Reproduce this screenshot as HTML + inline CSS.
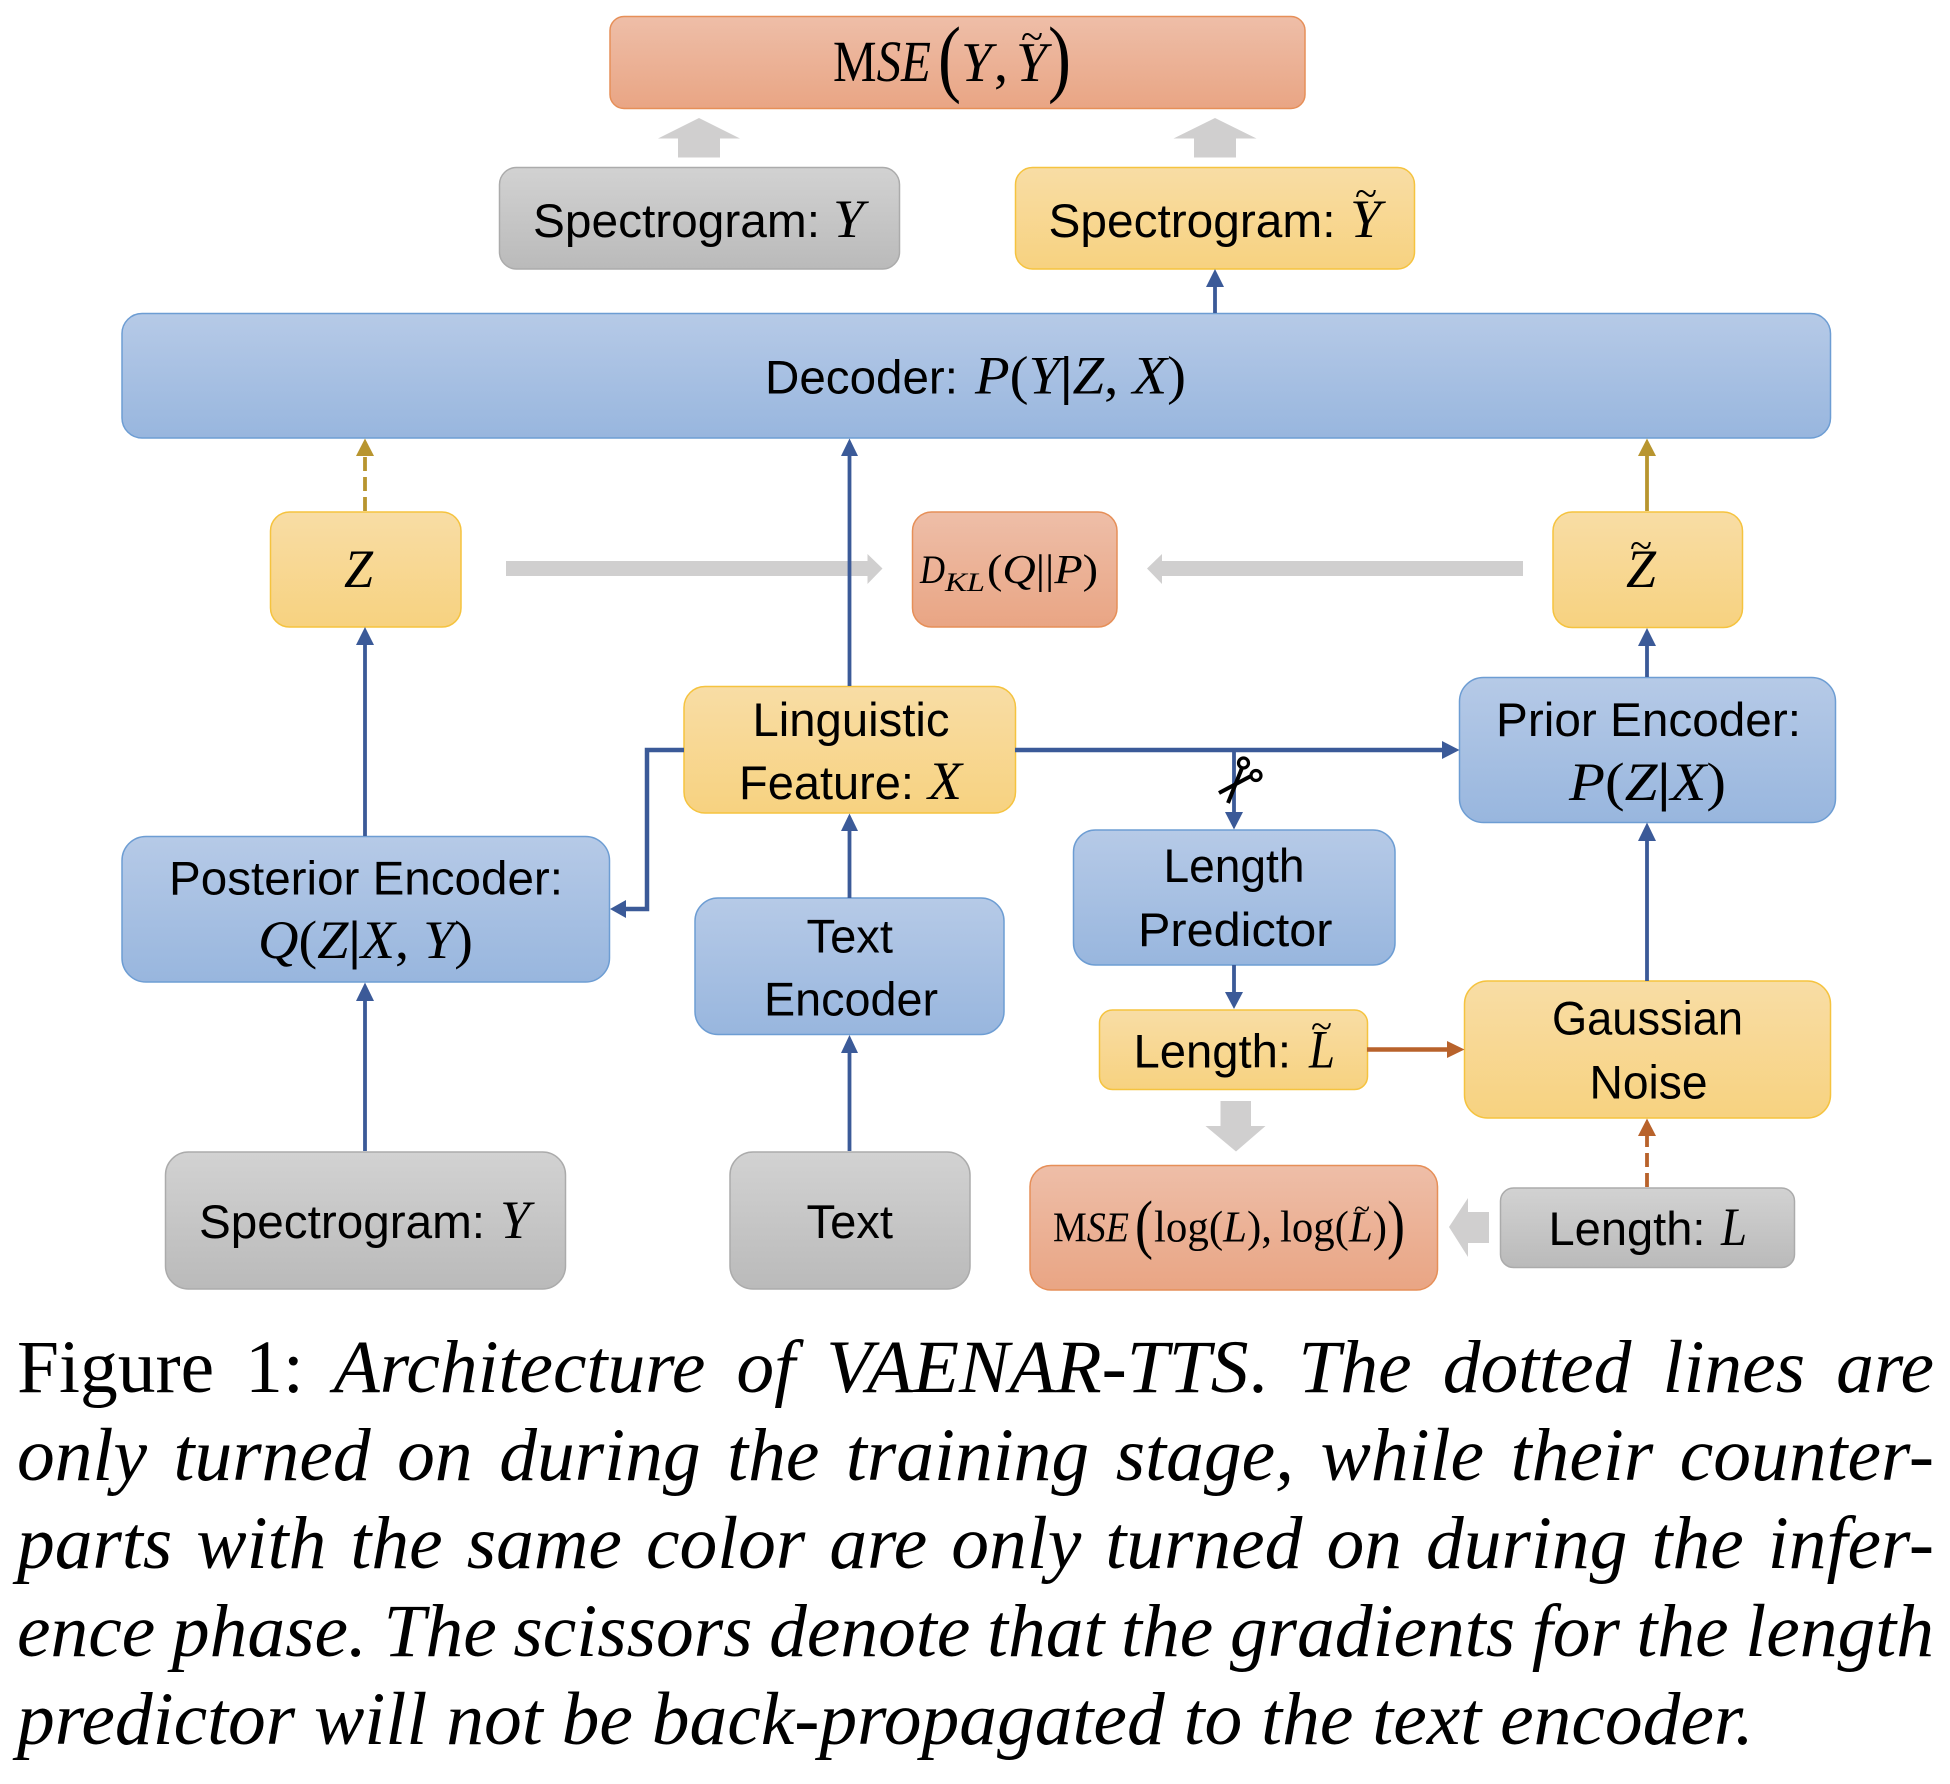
<!DOCTYPE html>
<html><head><meta charset="utf-8">
<style>
html,body{margin:0;padding:0;background:#fff;width:1950px;height:1784px;overflow:hidden}
svg{position:absolute;left:0;top:0}
.s{font-family:"Liberation Sans",sans-serif;font-size:47px;fill:#000}
.m{font-family:"Liberation Serif",serif;font-style:italic;font-size:54px;fill:#000}
.u{font-style:normal}
.c{position:absolute;left:17px;width:1917px;font-family:"Liberation Serif",serif;font-size:75.5px;line-height:88px;height:88px;white-space:nowrap;text-align:justify;text-align-last:justify;color:#000;font-style:italic}
.c span{font-style:normal}
</style></head><body>
<svg width="1950" height="1784" viewBox="0 0 1950 1784" xmlns="http://www.w3.org/2000/svg">
<defs>
<linearGradient id="b" x1="0" y1="0" x2="0" y2="1"><stop offset="0" stop-color="#b6cae7"/><stop offset="1" stop-color="#98b6de"/></linearGradient>
<linearGradient id="y" x1="0" y1="0" x2="0" y2="1"><stop offset="0" stop-color="#f8dda5"/><stop offset="1" stop-color="#f7d280"/></linearGradient>
<linearGradient id="g" x1="0" y1="0" x2="0" y2="1"><stop offset="0" stop-color="#d2d2d2"/><stop offset="1" stop-color="#bababa"/></linearGradient>
<linearGradient id="o" x1="0" y1="0" x2="0" y2="1"><stop offset="0" stop-color="#eebea8"/><stop offset="1" stop-color="#e9a584"/></linearGradient>
</defs>

<!-- grey block arrows -->
<g fill="#d0cfcf">
<polygon points="699,118 740,138.500 720,138.500 720,157.500 678,157.500 678,138.500 658,138.500"/>
<polygon points="1215,118 1256.500,138.500 1236,138.500 1236,157.500 1194,157.500 1194,138.500 1173.500,138.500"/>
<polygon points="506,561 867.500,561 867.500,554 882.500,568.500 867.500,584 867.500,576 506,576"/>
<polygon points="1523,561 1162,561 1162,554 1147,568.500 1162,584 1162,576 1523,576"/>
<polygon points="1220.500,1101 1251,1101 1251,1126 1265.500,1126 1236,1151.500 1205.500,1126 1220.500,1126"/>
<polygon points="1489,1212 1468,1212 1468,1198 1449,1227 1468,1257 1468,1243 1489,1243"/>
</g>

<!-- boxes -->
<g stroke-width="1.5">
<rect x="610" y="16.500" width="695" height="92" rx="14" fill="url(#o)" stroke="#e68f58"/>
<rect x="499.500" y="167.500" width="400" height="101.500" rx="17" fill="url(#g)" stroke="#ababab"/>
<rect x="1015.500" y="167.500" width="399" height="101.500" rx="17" fill="url(#y)" stroke="#f5c33f"/>
<rect x="122" y="313.500" width="1708.500" height="124.500" rx="20" fill="url(#b)" stroke="#6d9dd3"/>
<rect x="270.500" y="512" width="190.500" height="115" rx="19" fill="url(#y)" stroke="#f5c33f"/>
<rect x="912.500" y="512" width="204.500" height="115" rx="19" fill="url(#o)" stroke="#e68f58"/>
<rect x="1553" y="512" width="189.500" height="115.500" rx="19" fill="url(#y)" stroke="#f5c33f"/>
<rect x="684" y="686.500" width="331.500" height="126.500" rx="21" fill="url(#y)" stroke="#f5c33f"/>
<rect x="122" y="836.500" width="487.500" height="145.500" rx="24" fill="url(#b)" stroke="#6d9dd3"/>
<rect x="695" y="898" width="309" height="136.500" rx="23" fill="url(#b)" stroke="#6d9dd3"/>
<rect x="1459.500" y="677.500" width="376" height="145" rx="24" fill="url(#b)" stroke="#6d9dd3"/>
<rect x="1073.500" y="830" width="321.500" height="135" rx="22" fill="url(#b)" stroke="#6d9dd3"/>
<rect x="1099.500" y="1010" width="268" height="79.500" rx="13" fill="url(#y)" stroke="#f5c33f"/>
<rect x="1464.500" y="981" width="366" height="137" rx="23" fill="url(#y)" stroke="#f5c33f"/>
<rect x="165.500" y="1152" width="400" height="137" rx="23" fill="url(#g)" stroke="#ababab"/>
<rect x="730" y="1152" width="240" height="137" rx="23" fill="url(#g)" stroke="#ababab"/>
<rect x="1030" y="1165.500" width="407.500" height="124.500" rx="21" fill="url(#o)" stroke="#e68f58"/>
<rect x="1500.500" y="1188" width="294" height="79.500" rx="13" fill="url(#g)" stroke="#ababab"/>
</g>

<!-- blue connectors -->
<g stroke="#3b5a98" stroke-width="3.800" fill="none">
<path d="M1215 313V285"/>
<path d="M849.500 686V455"/>
<path d="M365 836V644"/>
<path d="M1647 677V645"/>
<path d="M365 1151V1000"/>
<path d="M849.500 898V831"/>
<path d="M849.500 1151V1052"/>
<path d="M1647 981V840"/>
<path d="M1234 750V815"/>
<path d="M1234 965V995"/>
<path d="M684 750H647V909H622" stroke-width="4.500"/>
<path d="M1015 750H1445" stroke-width="4.500"/>
</g>
<g fill="#3b5a98">
<polygon points="1215,269 1224,287 1206,287"/>
<polygon points="849.500,438.500 858,456 841,456"/>
<polygon points="365,627 374,645 356,645"/>
<polygon points="1647,628 1656,646 1638,646"/>
<polygon points="365,982.500 374,1001 356,1001"/>
<polygon points="849.500,813.500 858,831 841,831"/>
<polygon points="849.500,1035 858,1053 841,1053"/>
<polygon points="1647,822.500 1656,841 1638,841"/>
<polygon points="1234,829.500 1225,812 1243,812"/>
<polygon points="1234,1009 1225,992 1243,992"/>
<polygon points="610,909 626,900 626,918"/>
<polygon points="1459.500,750 1442,741 1442,759"/>
</g>
<!-- gold / brown connectors -->
<g fill="none" stroke-width="3.800">
<path d="M365 511V456" stroke="#b8952f" stroke-dasharray="14 6"/>
<path d="M1647 511V456" stroke="#b8952f"/>
<path d="M1367 1049.500H1450" stroke="#b8622b" stroke-width="4.500"/>
<path d="M1647 1187V1136" stroke="#b8622b" stroke-dasharray="14 6"/>
</g>
<polygon fill="#b8952f" points="365,438.500 374,456 356,456"/>
<polygon fill="#b8952f" points="1647,438.500 1656,456 1638,456"/>
<polygon fill="#b8622b" points="1464.500,1049.500 1447,1041 1447,1058"/>
<polygon fill="#b8622b" points="1647,1118.500 1656,1136 1638,1136"/>

<!-- scissors -->
<g fill="none" stroke="#000">
<circle cx="1243.500" cy="763" r="5" stroke-width="3.200"/>
<circle cx="1256" cy="775.500" r="5" stroke-width="3.200"/>
<path d="M1242 768L1228 803" stroke-width="4"/>
<path d="M1251 776L1219 793" stroke-width="4"/>
</g>

<!-- labels -->
<text class="m" x="833" y="81" style="font-size:58px" textLength="98" lengthAdjust="spacingAndGlyphs"><tspan class="u">M</tspan>SE</text>
<text class="m u" x="938" y="86" style="font-size:86px;font-style:normal" textLength="23" lengthAdjust="spacingAndGlyphs">(</text>
<text class="m" x="961" y="81" style="font-size:56px" textLength="31" lengthAdjust="spacingAndGlyphs">Y</text>
<text class="m u" x="994" y="81" style="font-size:56px;font-style:normal">,</text>
<text class="m" x="1016" y="81" style="font-size:56px" textLength="31" lengthAdjust="spacingAndGlyphs">Y</text>
<text class="m u" x="1021" y="50" style="font-size:40px;font-style:normal" textLength="22" lengthAdjust="spacingAndGlyphs">~</text>
<text class="m u" x="1048" y="86" style="font-size:86px;font-style:normal" textLength="23" lengthAdjust="spacingAndGlyphs">)</text>

<text class="s" x="533" y="237" textLength="287" lengthAdjust="spacingAndGlyphs">Spectrogram:</text>
<text class="m" x="833" y="237" style="font-size:54px" textLength="31" lengthAdjust="spacingAndGlyphs">Y</text>

<text class="s" x="1048.500" y="237" textLength="287" lengthAdjust="spacingAndGlyphs">Spectrogram:</text>
<text class="m" x="1350" y="237" style="font-size:54px" textLength="31" lengthAdjust="spacingAndGlyphs">Y</text>
<text class="m u" x="1355" y="207" style="font-size:40px;font-style:normal" textLength="22" lengthAdjust="spacingAndGlyphs">~</text>

<text class="s" x="765" y="393.500" textLength="193" lengthAdjust="spacingAndGlyphs">Decoder:</text>
<text class="m" x="975" y="393.500" textLength="211" lengthAdjust="spacingAndGlyphs">P<tspan style="font-style:normal">(</tspan>Y<tspan style="font-style:normal;font-weight:bold">|</tspan>Z<tspan style="font-style:normal">,</tspan> X<tspan style="font-style:normal">)</tspan></text>

<text class="m" x="344" y="587" textLength="29" lengthAdjust="spacingAndGlyphs">Z</text>
<text class="m" x="1626" y="587" textLength="30" lengthAdjust="spacingAndGlyphs">Z</text>
<text class="m u" x="1630" y="559" style="font-size:40px;font-style:normal" textLength="22" lengthAdjust="spacingAndGlyphs">~</text>

<text class="m" x="920" y="583" style="font-size:40px" textLength="25" lengthAdjust="spacingAndGlyphs">D</text>
<text class="m" x="945" y="591" style="font-size:26px" textLength="40" lengthAdjust="spacingAndGlyphs">KL</text>
<text class="m" x="987" y="583" style="font-size:41px" textLength="111" lengthAdjust="spacingAndGlyphs"><tspan style="font-style:normal">(</tspan>Q<tspan style="font-style:normal">||</tspan>P<tspan style="font-style:normal">)</tspan></text>

<text class="s" x="752.500" y="736" textLength="197" lengthAdjust="spacingAndGlyphs">Linguistic</text>
<text class="s" x="739" y="799" textLength="175" lengthAdjust="spacingAndGlyphs">Feature:</text>
<text class="m" x="928" y="799" textLength="34" lengthAdjust="spacingAndGlyphs">X</text>

<text class="s" x="169" y="894.500" textLength="394" lengthAdjust="spacingAndGlyphs">Posterior Encoder:</text>
<text class="m" x="258" y="958" textLength="215" lengthAdjust="spacingAndGlyphs">Q<tspan style="font-style:normal">(</tspan>Z<tspan style="font-style:normal;font-weight:bold">|</tspan>X<tspan style="font-style:normal">,</tspan> Y<tspan style="font-style:normal">)</tspan></text>

<text class="s" x="806.500" y="952.500" textLength="86.500" lengthAdjust="spacingAndGlyphs">Text</text>
<text class="s" x="764" y="1015.500" textLength="174" lengthAdjust="spacingAndGlyphs">Encoder</text>

<text class="s" x="1496" y="736" textLength="305" lengthAdjust="spacingAndGlyphs">Prior Encoder:</text>
<text class="m" x="1569" y="800" textLength="157" lengthAdjust="spacingAndGlyphs">P<tspan style="font-style:normal">(</tspan>Z<tspan style="font-style:normal;font-weight:bold">|</tspan>X<tspan style="font-style:normal">)</tspan></text>

<text class="s" x="1163.500" y="882" textLength="141" lengthAdjust="spacingAndGlyphs">Length</text>
<text class="s" x="1138" y="946" textLength="194.500" lengthAdjust="spacingAndGlyphs">Predictor</text>

<text class="s" x="1133.500" y="1067.500" textLength="157.500" lengthAdjust="spacingAndGlyphs">Length:</text>
<text class="m" x="1309" y="1067.500" textLength="26" lengthAdjust="spacingAndGlyphs">L</text>
<text class="m u" x="1311" y="1039" style="font-size:38px;font-style:normal" textLength="21" lengthAdjust="spacingAndGlyphs">~</text>

<text class="s" x="1552" y="1034.500" textLength="191" lengthAdjust="spacingAndGlyphs">Gaussian</text>
<text class="s" x="1589.500" y="1098.500" textLength="118" lengthAdjust="spacingAndGlyphs">Noise</text>

<text class="s" x="199" y="1238" textLength="286" lengthAdjust="spacingAndGlyphs">Spectrogram:</text>
<text class="m" x="500" y="1238" textLength="30" lengthAdjust="spacingAndGlyphs">Y</text>

<text class="s" x="806.500" y="1238" textLength="86.500" lengthAdjust="spacingAndGlyphs">Text</text>

<text class="s" x="1548.500" y="1245" textLength="157" lengthAdjust="spacingAndGlyphs">Length:</text>
<text class="m" x="1721" y="1245" textLength="26" lengthAdjust="spacingAndGlyphs">L</text>

<text class="m" x="1053" y="1241.500" style="font-size:42px" textLength="76" lengthAdjust="spacingAndGlyphs"><tspan style="font-style:normal">M</tspan>SE</text>
<text class="m" x="1135" y="1246" style="font-size:66px;font-style:normal" textLength="18" lengthAdjust="spacingAndGlyphs">(</text>
<text class="m" x="1154" y="1241.500" style="font-size:44px;font-style:normal" textLength="118" lengthAdjust="spacingAndGlyphs">log(<tspan style="font-style:italic">L</tspan>),</text>
<text class="m" x="1280" y="1241.500" style="font-size:44px;font-style:normal" textLength="107" lengthAdjust="spacingAndGlyphs">log(<tspan style="font-style:italic">L</tspan>)</text>
<text class="m" x="1354" y="1219" style="font-size:30px;font-style:normal" textLength="16" lengthAdjust="spacingAndGlyphs">~</text>
<text class="m" x="1387" y="1246" style="font-size:66px;font-style:normal" textLength="18" lengthAdjust="spacingAndGlyphs">)</text>
</svg>

<div class="c" style="top:1324px"><span>Figure 1:</span> Architecture of VAENAR-TTS<span>.</span> The dotted lines are</div>
<div class="c" style="top:1412px">only turned on during the training stage, while their counter-</div>
<div class="c" style="top:1500px">parts with the same color are only turned on during the infer-</div>
<div class="c" style="top:1588px;word-spacing:-8px">ence phase. The scissors denote that the gradients for the length</div>
<div class="c" style="top:1676px;text-align:left;text-align-last:left">predictor will not be back-propagated to the text encoder.</div>
</body></html>
